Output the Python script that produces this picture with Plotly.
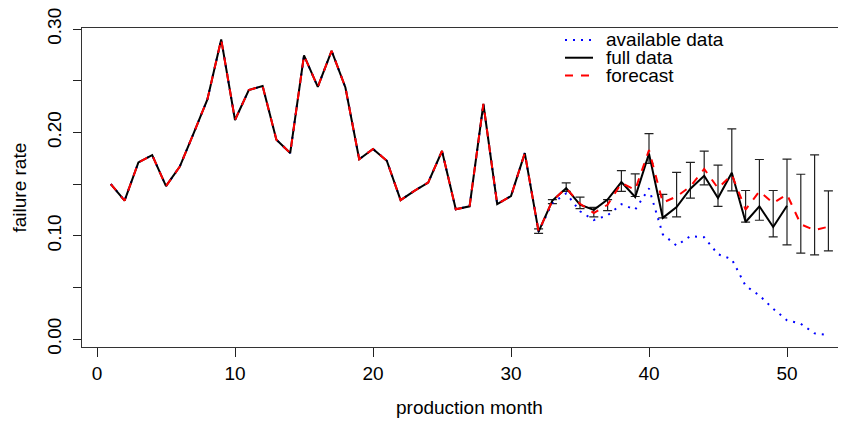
import plotly.graph_objects as go

months = list(range(1, 54))

# full data (black solid), months 1..50
full_data = [0.150, 0.134, 0.171, 0.178, 0.148, 0.167, 0.199, 0.232, 0.290, 0.212,
             0.241, 0.245, 0.193, 0.180, 0.2745, 0.244, 0.279, 0.2435, 0.174, 0.184,
             0.1726, 0.1345, 0.1435, 0.1515, 0.182, 0.1256, 0.1285, 0.2275, 0.1307, 0.1384,
             0.180, 0.104, 0.134, 0.146, 0.130, 0.125, 0.135, 0.152, 0.1375, 0.1795,
             0.1173, 0.1278, 0.1455, 0.158, 0.1365, 0.161, 0.1133, 0.1285, 0.1085, 0.129]

# available data (blue dotted), months 1..53
available_data = full_data[:32] + [
    0.1317, 0.141, 0.1237, 0.1152, 0.1198, 0.1305, 0.1253, 0.1458,
    0.1013, 0.0905, 0.0997, 0.0985, 0.0821, 0.0773, 0.0515, 0.0422, 0.0294, 0.0182,
    0.0148, 0.0055, 0.0040]

# forecast (red dashed), months 1..53
forecast = full_data[:32] + [
    0.134, 0.146, 0.131, 0.122, 0.130, 0.151, 0.1445, 0.183,
    0.132, 0.138, 0.1476, 0.1646, 0.146, 0.159, 0.1253, 0.143, 0.1317, 0.140,
    0.111, 0.1055, 0.1087]

# forecast interval, months 32..53
interval_months = list(range(32, 54))
interval_lower = [0.1023, 0.1311, 0.1429, 0.1263, 0.1182, 0.1243, 0.1429, 0.1380, 0.1700, 0.1173,
                  0.1182, 0.1365, 0.1493, 0.1285, 0.1435, 0.1131, 0.1150, 0.0990, 0.0911, 0.0831,
                  0.0815, 0.0853]
interval_upper = [0.1067, 0.1349, 0.1512, 0.1374, 0.1275, 0.1349, 0.1630, 0.1598, 0.1988, 0.1400,
                  0.1614, 0.1710, 0.1819, 0.1684, 0.2035, 0.1438, 0.1738, 0.1438, 0.1742, 0.1595,
                  0.1783, 0.1435]

x_ticks = [0, 10, 20, 30, 40, 50]
y_ticks = [0.00, 0.05, 0.10, 0.15, 0.20, 0.25, 0.30]
y_tick_text = ["0.00", "", "0.10", "", "0.20", "", "0.30"]

legend_labels = ["available data", "full data", "forecast"]

FONT = "Liberation Sans, Arial, Helvetica, sans-serif"
FS = 19

fig = go.Figure()

mid = [(lo + hi) / 2 for lo, hi in zip(interval_lower, interval_upper)]
half = [(hi - lo) / 2 for lo, hi in zip(interval_lower, interval_upper)]
fig.add_trace(go.Scatter(
    x=interval_months, y=mid, mode="markers",
    marker=dict(size=1, color="rgba(0,0,0,0)"),
    error_y=dict(type="data", array=half, visible=True, color="#222222",
                 thickness=1.2, width=4.5),
    showlegend=False, hoverinfo="skip"))

fig.add_trace(go.Scatter(
    x=months, y=available_data, mode="lines",
    line=dict(color="#0000FF", width=2, dash="2px,6px"),
    name=legend_labels[0], showlegend=False))

fig.add_trace(go.Scatter(
    x=months[:len(full_data)], y=full_data, mode="lines",
    line=dict(color="#000000", width=2),
    name=legend_labels[1], showlegend=False))

fig.add_trace(go.Scatter(
    x=months, y=forecast, mode="lines",
    line=dict(color="#FF0000", width=2, dash="8px,8px"),
    name=legend_labels[2], showlegend=False))

# page has an 8px body margin; figure coords = window coords - 8
# plot area (figure px): left 74, right 838, top 17, bottom 339
L, R, T, B = 74, 838, 17, 339
W, H = 838, 414
X0, XS = 89, 13.8       # pixel of month 0, pixels per month
Y0, YS = 331, 1043      # pixel of rate 0, pixels per unit rate


def px_x(p):
    return (p - L) / (R - L)


def px_y(p):
    return (B - p) / (B - T)


# manual legend (R-style, no box)
leg_styles = [dict(color="#0000FF", width=2, dash="2px,6px"),
              dict(color="#000000", width=2),
              dict(color="#FF0000", width=2, dash="8px,8px")]
leg_y = [29, 47, 65]
shapes = []
annotations = []
for lab, st, yy in zip(legend_labels, leg_styles, leg_y):
    shapes.append(dict(type="line", xref="paper", yref="paper",
                       x0=px_x(557), x1=px_x(585), y0=px_y(yy), y1=px_y(yy),
                       line=st))
    annotations.append(dict(xref="paper", yref="paper", x=px_x(597), y=px_y(yy),
                            text=lab, showarrow=False, xanchor="left", yanchor="middle",
                            borderpad=0,
                            font=dict(family=FONT, size=FS, color="black")))

annotations.append(dict(xref="paper", yref="paper", x=px_x(461), y=px_y(400),
                        text="production month", showarrow=False,
                        xanchor="center", yanchor="middle",
                        font=dict(family=FONT, size=FS, color="black")))
annotations.append(dict(xref="paper", yref="paper", x=px_x(11), y=px_y(178),
                        text="failure rate", showarrow=False, textangle=-90,
                        xanchor="center", yanchor="middle",
                        font=dict(family=FONT, size=FS, color="black")))

fig.update_layout(
    width=W, height=H,
    margin=dict(l=L, r=W - R, t=T, b=H - B, pad=0),
    paper_bgcolor="white", plot_bgcolor="white",
    font=dict(family=FONT, size=FS, color="black"),
    shapes=shapes, annotations=annotations,
    showlegend=False,
)

fig.update_xaxes(
    range=[(L - X0) / XS, (R - X0) / XS],
    tickvals=x_ticks, ticktext=[str(v) for v in x_ticks],
    ticks="outside", ticklen=9, tickwidth=1, tickcolor="#222",
    showline=True, linecolor="#333", linewidth=1, mirror=True,
    showgrid=False, zeroline=False,
    tickfont=dict(family=FONT, size=FS, color="black"),
)
fig.update_yaxes(
    range=[(Y0 - B) / YS, (Y0 - T) / YS],
    tickvals=y_ticks, ticktext=y_tick_text, tickangle=-90,
    ticks="outside", ticklen=8, tickwidth=1, tickcolor="#222",
    showline=True, linecolor="#333", linewidth=1, mirror=False,
    showgrid=False, zeroline=False,
    ticklabelstandoff=4, ticklabeloverflow="allow",
    tickfont=dict(family=FONT, size=FS, color="black"),
)

fig.write_html("out.html")
